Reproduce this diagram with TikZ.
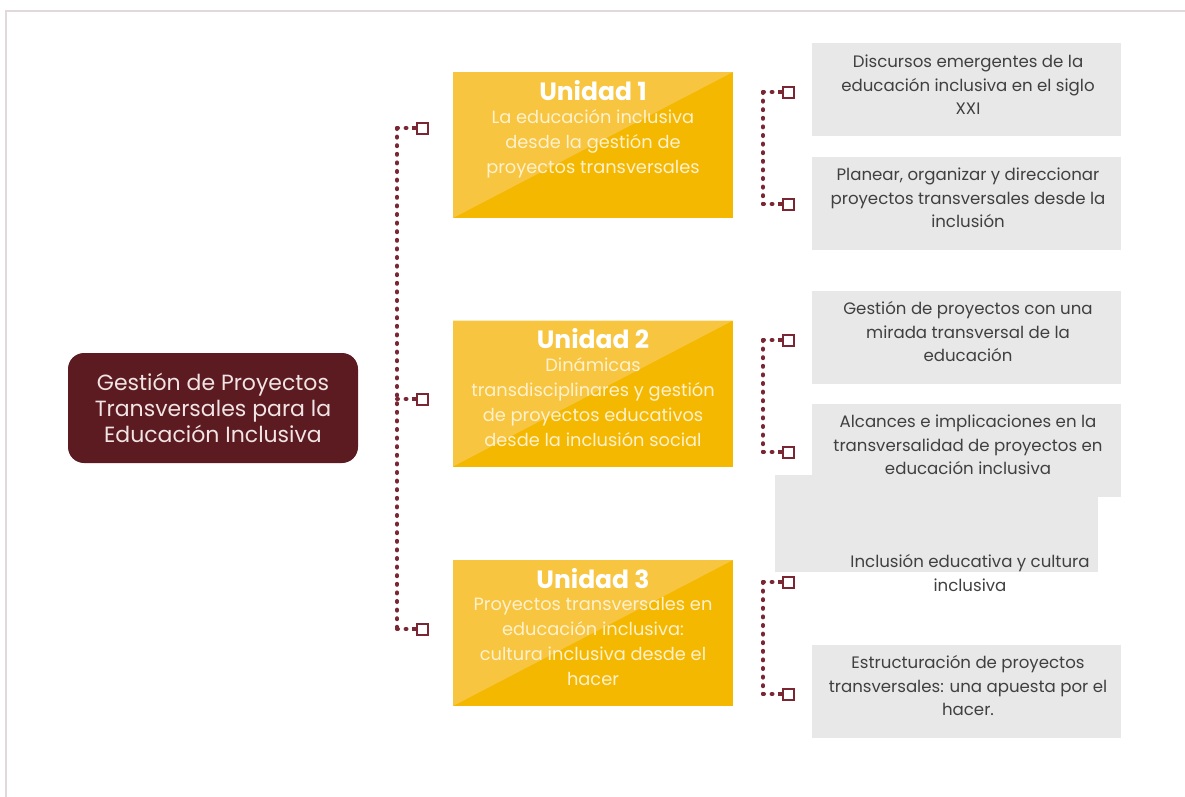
\documentclass[tikz,border=0pt]{standalone}
\usepackage{fontspec}
\setmainfont{Poppins}
\definecolor{maroon}{HTML}{5C1A21}
\definecolor{maroonl}{HTML}{7B2733}
\definecolor{maintext}{HTML}{F0E4E4}
\definecolor{ydark}{HTML}{F5B800}
\definecolor{ylight}{HTML}{F7C53F}
\definecolor{ysub}{HTML}{FDF1CF}
\definecolor{gbox}{HTML}{E8E8E8}
\definecolor{gtext}{HTML}{404040}
\definecolor{frame}{HTML}{E0D8DB}
\begin{document}
\begin{tikzpicture}[x=1pt,y=-1pt]
\tikzset{
  mainbox/.style={fill=maroon, rounded corners=16pt, minimum width=290pt, minimum height=110pt,
    text=maintext, align=center, inner sep=0pt, font=\fontsize{22}{26}\selectfont},
  unitbox/.style={fill=ydark, minimum width=280pt, minimum height=146pt, inner sep=0pt,
    path picture={\fill[ylight] (path picture bounding box.north west) -- (path picture bounding box.north east) -- (path picture bounding box.south west) -- cycle;}},
  unittitle/.style={text=white, inner sep=0pt, font=\fontsize{25}{28}\bfseries},
  unitsub/.style={text=ysub, inner sep=0pt, align=center, font=\fontsize{17.8}{25}\selectfont},
  graybox/.style={fill=gbox, minimum width=309pt, minimum height=93pt, inner sep=0pt},
  graytext/.style={text=gtext, align=center, inner sep=0pt, font=\fontsize{16.6}{23.5}\selectfont},
  sq/.style={draw=maroonl, line width=2pt, fill=white, minimum size=11pt, inner sep=0pt},
  dotcon/.style={draw=maroonl, line width=4pt, line cap=round, dash pattern=on 1pt off 7.6pt},
  stub/.style={draw=maroonl, line width=3.5pt},
}
\useasboundingbox (0,0) rectangle (1185,796);
\draw[frame, line width=2pt] (6,797) -- (6,11) -- (1186,11);

% main node
\node[mainbox] (main) at (213,408) {Gestión de Proyectos\\Transversales para la\\Educación Inclusiva};

% units
\node[unitbox] (u1) at (593,145) {};
\node[unitbox] (u2) at (593,393.5) {};
\node[unitbox] (u3) at (593,633) {};
\node[unittitle, anchor=base] (u1t) at ([yshift=-28.5pt]u1.north) {Unidad 1};
\node[unittitle, anchor=base] (u2t) at ([yshift=-28.5pt]u2.north) {Unidad 2};
\node[unittitle, anchor=base] (u3t) at ([yshift=-28.5pt]u3.north) {Unidad 3};
\node[unitsub, anchor=north] (u1s) at ([yshift=-37pt]u1.north) {La educación inclusiva\\desde la gestión de\\proyectos transversales};
\node[unitsub, anchor=north] (u2s) at ([yshift=-37pt]u2.north) {Dinámicas\\transdisciplinares y gestión\\de proyectos educativos\\desde la inclusión social};
\node[unitsub, anchor=north] (u3s) at ([yshift=-37pt]u3.north) {Proyectos transversales en\\educación inclusiva:\\cultura inclusiva desde el\\hacer};

% gray boxes
\node[graybox] (g1) at (966.5,89) {};
\node[graytext] (g1t) at (968,85) {Discursos emergentes de la\\educación inclusiva en el siglo\\XXI};
\node[graybox] (g2) at (966.5,203.5) {};
\node[graytext] (g2t) at (968,198) {Planear, organizar y direccionar\\proyectos transversales desde la\\inclusión};
\node[graybox] (g3) at (966.5,337.5) {};
\node[graytext] (g3t) at (968,332) {Gestión de proyectos con una\\mirada transversal de la\\educación};
\node[graybox, minimum width=323pt, minimum height=97pt] (g5) at (936.5,523.5) {};
\node[graybox] (g4) at (966.5,450.5) {};
\node[graytext] (g4t) at (968,445) {Alcances e implicaciones en la\\transversalidad de proyectos en\\educación inclusiva};
\node[graytext] (g5t) at (970,573) {Inclusión educativa y cultura\\inclusiva};
\node[graybox] (g6) at (966.5,691) {};
\node[graytext] (g6t) at (968,686) {Estructuración de proyectos\\transversales: una apuesta por el\\hacer.};

% squares
\node[sq] (ls1) at (422,128) {};
\node[sq] (ls2) at (422,399) {};
\node[sq] (ls3) at (422,629) {};
\node[sq] (r1a) at (788,92) {};
\node[sq] (r1b) at (788,204) {};
\node[sq] (r2a) at (788,340) {};
\node[sq] (r2b) at (788,452) {};
\node[sq] (r3a) at (788,582) {};
\node[sq] (r3b) at (788,694) {};

% left bracket
\coordinate (lt) at ([xshift=-18.5pt]ls1.west);
\coordinate (lb) at ([xshift=-18.5pt]ls3.west);
\draw[dotcon] (lt) -- (lb);
\foreach \s in {ls1,ls2,ls3}{
  \draw[dotcon, shorten >=9pt] (lt |- \s.west) -- (\s.west);
  \draw[stub] ([xshift=-4pt]\s.west) -- (\s.west);
}
% right brackets
\foreach \a/\b in {r1a/r1b,r2a/r2b,r3a/r3b}{
  \coordinate (ct) at ([xshift=-18.5pt]\a.west);
  \coordinate (cb) at ([xshift=-18.5pt]\b.west);
  \draw[dotcon] (ct) -- (cb);
  \draw[dotcon, shorten >=9pt] (ct) -- (\a.west);
  \draw[dotcon, shorten >=9pt] (cb) -- (\b.west);
  \draw[stub] ([xshift=-4pt]\a.west) -- (\a.west);
  \draw[stub] ([xshift=-4pt]\b.west) -- (\b.west);
}
\end{tikzpicture}
\end{document}
